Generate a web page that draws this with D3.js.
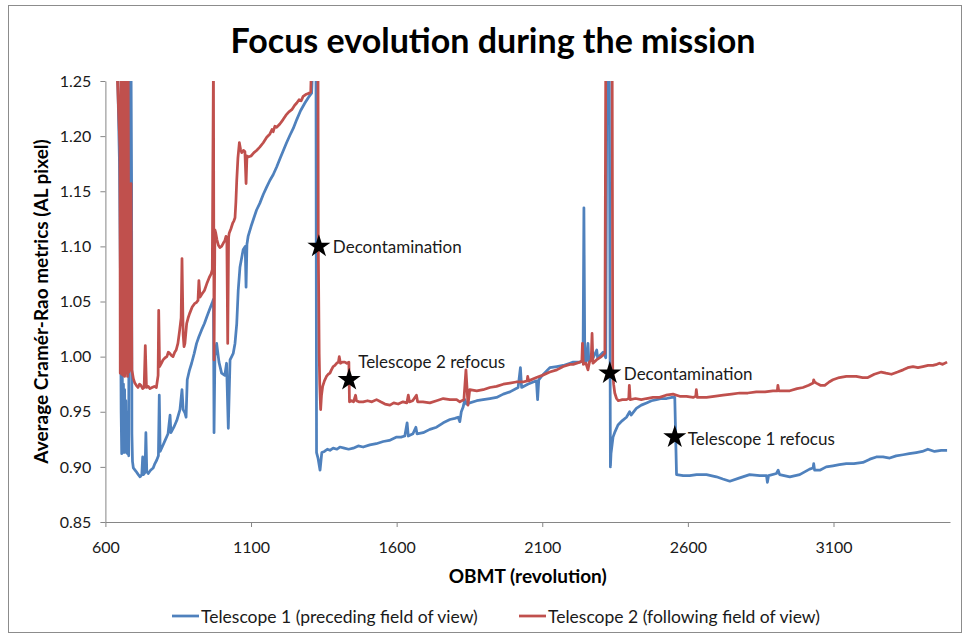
<!DOCTYPE html>
<html>
<head>
<meta charset="utf-8">
<script src="https://cdn.jsdelivr.net/npm/d3@7"></script>
<style>
  body { margin: 0; background: #fff; }
  svg text { font-family: Lato, 'Open Sans', sans-serif; }
</style>
</head>
<body>
<div id="chart-1"></div>
<script>
// values: [OBMT revolution, average Cramer-Rao metric]
let telescope1 = [
  [641,1.27],[648,1.18],[652,1.06],[654,0.95],[656,0.912],[658,0.985],[660,0.92],[662,0.975],[664,0.913],[666,0.97],
  [668,0.915],[670,0.96],[672,0.913],[674,0.95],[676,0.912],[678,0.94],[680,0.91],[682,1.27],[688,1.27],[690,1.157],
  [691,0.93],[693,0.905],[696,0.899],[705,0.896],[713,0.893],[719,0.891],[725,0.893],[728,0.909],[731,0.893],[736,0.895],
  [739,0.931],[742,0.896],[747,0.894],[755,0.897],[764,0.899],[770,0.903],[776,0.906],[782,0.910],[785,0.965],[788,0.914],
  [795,0.918],[805,0.924],[815,0.930],[822,0.947],[825,0.931],[835,0.936],[845,0.942],[856,0.952],[863,0.970],[867,0.952],
  [873,0.949],[877,0.945],[881,0.979],[888,0.987],[896,0.994],[905,1.003],[913,1.012],[921,1.018],[930,1.024],[940,1.030],
  [948,1.036],[958,1.043],[967,1.049],[971,1.052],[973,0.931],[976,1.000],[982,1.012],[990,0.995],[999,0.985],[1010,0.983],
  [1016,0.994],[1022,0.935],[1028,0.997],[1039,1.003],[1045,1.012],[1051,1.030],[1056,1.060],[1062,1.081],[1073,1.097],[1080,1.100],
  [1083,1.063],[1086,1.102],[1090,1.109],[1100,1.118],[1110,1.126],[1119,1.133],[1130,1.139],[1142,1.147],[1154,1.154],[1165,1.160],
  [1176,1.165],[1188,1.172],[1200,1.180],[1211,1.187],[1222,1.194],[1234,1.201],[1245,1.207],[1257,1.215],[1270,1.223],[1285,1.230],
  [1297,1.235],[1308,1.239],[1313,1.27],[1323,1.27],[1325,0.913],[1330,0.908],[1337,0.897],[1343,0.913],[1352,0.914],[1362,0.916],
  [1371,0.915],[1382,0.917],[1395,0.916],[1405,0.918],[1420,0.917],[1435,0.916],[1451,0.917],[1468,0.919],[1485,0.918],[1508,0.920],
  [1530,0.921],[1554,0.923],[1575,0.924],[1600,0.927],[1615,0.927],[1628,0.928],[1636,0.940],[1640,0.928],[1656,0.930],[1666,0.936],
  [1670,0.930],[1691,0.931],[1714,0.934],[1737,0.936],[1760,0.940],[1783,0.943],[1800,0.944],[1811,0.945],[1817,0.941],[1822,0.950],
  [1828,0.954],[1834,0.961],[1840,0.957],[1851,0.958],[1875,0.960],[1897,0.961],[1920,0.962],[1943,0.963],[1966,0.966],[1989,0.968],
  [2017,0.972],[2025,0.990],[2029,0.972],[2050,0.975],[2069,0.977],[2080,0.978],[2084,0.961],[2088,0.979],[2100,0.983],[2126,0.990],
  [2150,0.991],[2172,0.992],[2195,0.994],[2206,0.995],[2229,0.995],[2240,0.996],[2243,1.135],[2246,0.996],[2250,0.995],[2257,1.012],
  [2260,0.996],[2275,0.999],[2287,1.006],[2290,0.999],[2298,1.001],[2309,1.004],[2318,0.999],[2322,1.27],[2330,1.27],[2334,0.900],
  [2336,0.912],[2343,0.927],[2350,0.932],[2360,0.938],[2375,0.942],[2389,0.945],[2400,0.950],[2405,0.947],[2423,0.953],[2440,0.956],
  [2458,0.958],[2475,0.960],[2492,0.961],[2510,0.962],[2527,0.962],[2545,0.963],[2555,0.963],[2561,0.893],[2584,0.892],[2606,0.892],
  [2630,0.893],[2664,0.893],[2698,0.891],[2720,0.889],[2744,0.887],[2778,0.890],[2812,0.893],[2847,0.892],[2870,0.892],[2873,0.886],
  [2877,0.892],[2904,0.894],[2910,0.897],[2915,0.893],[2950,0.891],[2984,0.893],[3018,0.898],[3030,0.899],[3032,0.903],[3035,0.897],
  [3053,0.897],[3075,0.900],[3098,0.901],[3120,0.902],[3144,0.903],[3170,0.903],[3201,0.904],[3225,0.907],[3247,0.909],[3270,0.909],
  [3293,0.908],[3315,0.910],[3339,0.911],[3360,0.912],[3384,0.913],[3405,0.914],[3424,0.916],[3447,0.914],[3470,0.915],[3490,0.915]
]

let telescope2 = [
  [640,1.26],[650,1.19],[651,0.985],[653,1.27],[656,0.984],[658,1.27],[661,0.983],[663,1.27],[666,0.982],[668,1.27],
  [671,0.985],[673,1.27],[676,0.982],[678,1.27],[681,0.986],[684,0.99],[688,1.157],[691,0.988],[696,0.980],[701,0.976],
  [706,0.974],[712,0.972],[717,0.975],[722,0.974],[728,0.971],[733,0.972],[737,1.010],[741,0.972],[747,0.973],[753,0.971],
  [760,0.972],[768,0.973],[775,0.972],[781,0.983],[783,1.042],[786,0.991],[792,0.994],[798,0.997],[805,0.999],[811,1.000],
  [816,1.004],[821,1.003],[827,1.001],[832,1.000],[838,1.004],[843,1.006],[849,1.012],[855,1.024],[860,1.035],[863,1.089],
  [867,1.020],[870,1.009],[873,1.012],[879,1.030],[884,1.035],[889,1.039],[898,1.045],[906,1.048],[912,1.049],[918,1.051],
  [921,1.069],[925,1.054],[932,1.057],[940,1.060],[948,1.066],[957,1.072],[963,1.075],[967,1.079],[971,1.27],[973,0.997],
  [976,1.115],[979,1.112],[983,1.106],[988,1.101],[993,1.099],[999,1.100],[1005,1.103],[1010,1.105],[1014,1.109],[1017,1.107],
  [1020,1.012],[1023,1.108],[1025,1.112],[1031,1.116],[1037,1.121],[1041,1.123],[1045,1.126],[1048,1.140],[1051,1.160],[1055,1.180],
  [1060,1.194],[1064,1.188],[1068,1.185],[1074,1.187],[1079,1.186],[1083,1.157],[1086,1.182],[1090,1.181],[1100,1.182],[1110,1.185],
  [1119,1.187],[1130,1.190],[1142,1.194],[1154,1.199],[1165,1.202],[1172,1.206],[1176,1.204],[1182,1.209],[1188,1.208],[1199,1.211],
  [1210,1.215],[1220,1.219],[1230,1.222],[1240,1.224],[1250,1.228],[1257,1.230],[1265,1.233],[1272,1.232],[1279,1.236],[1290,1.238],
  [1300,1.239],[1305,1.240],[1308,1.27],[1330,1.27],[1331,1.10],[1334,1.003],[1336,0.975],[1339,0.952],[1342,0.965],[1346,0.973],
  [1352,0.978],[1359,0.982],[1365,0.984],[1371,0.985],[1376,0.988],[1382,0.991],[1388,0.992],[1394,0.994],[1400,0.995],[1403,1.000],
  [1407,0.994],[1414,0.995],[1422,0.995],[1429,0.994],[1436,0.995],[1438,0.959],[1445,0.960],[1452,0.959],[1459,0.965],[1462,0.960],
  [1470,0.959],[1485,0.959],[1500,0.960],[1515,0.959],[1531,0.961],[1545,0.959],[1560,0.957],[1577,0.956],[1590,0.958],[1605,0.957],
  [1622,0.959],[1635,0.958],[1640,0.965],[1644,0.959],[1655,0.960],[1668,0.965],[1672,0.959],[1690,0.959],[1714,0.958],[1737,0.960],
  [1760,0.962],[1783,0.961],[1806,0.961],[1817,0.959],[1831,0.961],[1838,0.988],[1842,0.970],[1845,0.956],[1851,0.970],[1875,0.969],
  [1897,0.970],[1920,0.972],[1943,0.973],[1966,0.975],[1989,0.976],[2010,0.977],[2034,0.977],[2048,0.978],[2050,0.982],[2053,0.978],
  [2080,0.981],[2100,0.983],[2126,0.986],[2150,0.988],[2172,0.991],[2195,0.993],[2206,0.993],[2229,0.995],[2236,0.996],[2238,1.012],
  [2241,0.993],[2250,0.994],[2257,0.988],[2262,0.995],[2268,0.997],[2271,1.021],[2274,0.994],[2286,0.997],[2303,1.000],[2315,1.003],
  [2318,1.27],[2340,1.27],[2342,0.988],[2345,0.975],[2349,0.967],[2355,0.962],[2361,0.960],[2375,0.961],[2389,0.961],[2397,0.962],
  [2399,0.974],[2402,0.961],[2420,0.962],[2440,0.961],[2458,0.962],[2480,0.963],[2503,0.963],[2525,0.965],[2549,0.966],[2572,0.964],
  [2595,0.964],[2618,0.963],[2627,0.964],[2629,0.970],[2632,0.963],[2664,0.963],[2690,0.964],[2721,0.965],[2750,0.966],[2778,0.967],
  [2806,0.967],[2835,0.968],[2865,0.968],[2892,0.969],[2907,0.969],[2909,0.974],[2912,0.969],[2950,0.969],[2975,0.971],[2995,0.972],
  [3015,0.974],[3030,0.976],[3032,0.979],[3035,0.977],[3041,0.976],[3055,0.974],[3070,0.974],[3085,0.977],[3098,0.979],[3120,0.981],
  [3144,0.982],[3160,0.982],[3178,0.982],[3200,0.981],[3218,0.981],[3240,0.984],[3264,0.986],[3280,0.985],[3299,0.984],[3320,0.986],
  [3339,0.988],[3355,0.990],[3373,0.991],[3390,0.990],[3407,0.991],[3425,0.992],[3441,0.992],[3455,0.993],[3464,0.994],[3475,0.993],
  [3490,0.995]
]

let seriesNames = ['Telescope 1 (preceding field of view)', 'Telescope 2 (following field of view)']
let seriesColors = ['#4f81bd', '#c0504d']

let eventRevs = [1333, 1437, 2332, 2555]
let eventValues = [1.100, 0.979, 0.985, 0.927]
let eventLabels = ['Decontamination', 'Telescope 2 refocus', 'Decontamination', 'Telescope 1 refocus']

let xTicks = [600, 1100, 1600, 2100, 2600, 3100]
let yTicks = [0.85, 0.90, 0.95, 1.00, 1.05, 1.10, 1.15, 1.20, 1.25]

// layout
let margin = { top: 81, left: 105.4, right: 19, bottom: 115 }
let height = 637 - margin.top - margin.bottom
let width = 969 - margin.left - margin.right
let labelOffsets = [[14, 0], [9, -18], [14, 0], [13, 1]]

let svg = d3.select('#chart-1')
  .append('svg')
  .attr('width', 969)
  .attr('height', 637)

svg.append('rect')
  .attr('x', 8.5)
  .attr('y', 5.5)
  .attr('width', 953)
  .attr('height', 627)
  .attr('fill', 'none')
  .attr('stroke', '#8c8c8c')

svg.append('text')
  .attr('x', 493)
  .attr('y', 53)
  .attr('text-anchor', 'middle')
  .attr('font-size', 34)
  .attr('font-weight', 'bold')
  .text('Focus evolution during the mission')

let holder = svg.append('g')
  .attr('transform', `translate(${margin.left},${margin.top})`)

let xPositionScale = d3.scaleLinear().domain([600, 3500]).range([0, width])
let yPositionScale = d3.scaleLinear().domain([0.85, 1.25]).range([height, 0])

holder.append('clipPath')
  .attr('id', 'plot-clip')
  .append('rect')
  .attr('width', width)
  .attr('height', height)

let line = d3.line()
  .x(d => xPositionScale(d[0]))
  .y(d => yPositionScale(d[1]))

holder.append('g')
  .attr('clip-path', 'url(#plot-clip)')
  .selectAll('.series')
  .data([telescope1, telescope2])
  .enter().append('path')
  .attr('class', 'series')
  .attr('d', line)
  .attr('fill', 'none')
  .attr('stroke', (d, i) => seriesColors[i])
  .attr('stroke-width', 2.75)
  .attr('stroke-linejoin', 'round')

// axes
let yAxis = d3.axisLeft(yPositionScale)
  .tickValues(yTicks)
  .tickFormat(d3.format('.2f'))
  .tickSize(5)
  .tickSizeOuter(0)
  .tickPadding(9)

holder.append('g')
  .attr('class', 'axis y-axis')
  .call(yAxis)

let xAxis = d3.axisBottom(xPositionScale)
  .tickValues(xTicks)
  .tickFormat(d3.format('d'))
  .tickSize(5)
  .tickSizeOuter(0)
  .tickPadding(15)

holder.append('g')
  .attr('class', 'axis x-axis')
  .attr('transform', `translate(0,${height})`)
  .call(xAxis)

holder.selectAll('.axis .domain, .axis line').attr('stroke', '#868686')
holder.selectAll('.axis text')
  .attr('font-size', 16)
  .attr('fill', '#1a1a1a')
  .attr('font-family', "Lato, 'Open Sans', sans-serif")

holder.append('text')
  .attr('x', width / 2)
  .attr('y', height + 61)
  .attr('text-anchor', 'middle')
  .attr('font-size', 19)
  .attr('font-weight', 'bold')
  .text('OBMT (revolution)')

holder.append('text')
  .attr('transform', `translate(${40 - margin.left},${height / 2}) rotate(-90)`)
  .attr('text-anchor', 'middle')
  .attr('dominant-baseline', 'central')
  .attr('font-size', 19)
  .attr('font-weight', 'bold')
  .text('Average Cramér-Rao metrics (AL pixel)')

// event markers
let star = d3.symbol().type(d3.symbolStar).size(165)

holder.selectAll('.event-star')
  .data(eventRevs)
  .enter().append('path')
  .attr('class', 'event-star')
  .attr('d', star)
  .attr('transform', (d, i) => `translate(${xPositionScale(d)},${yPositionScale(eventValues[i])})`)
  .attr('fill', '#000')

holder.selectAll('.event-label')
  .data(eventRevs)
  .enter().append('text')
  .attr('class', 'event-label')
  .attr('x', (d, i) => xPositionScale(d) + labelOffsets[i][0])
  .attr('y', (d, i) => yPositionScale(eventValues[i]) + labelOffsets[i][1])
  .attr('dominant-baseline', 'central')
  .attr('font-size', 17)
  .attr('fill', '#1a1a1a')
  .text((d, i) => eventLabels[i])

// legend
let legendX = [172, 519]

let legend = svg.selectAll('.legend-item')
  .data(seriesNames)
  .enter().append('g')
  .attr('class', 'legend-item')
  .attr('transform', (d, i) => `translate(${legendX[i]},616)`)

legend.append('line')
  .attr('x1', 0)
  .attr('x2', 27)
  .attr('stroke', (d, i) => seriesColors[i])
  .attr('stroke-width', 2.75)

legend.append('text')
  .attr('x', 29)
  .attr('dominant-baseline', 'central')
  .attr('font-size', 17.5)
  .attr('fill', '#1a1a1a')
  .text(d => d)
</script>
</body>
</html>
